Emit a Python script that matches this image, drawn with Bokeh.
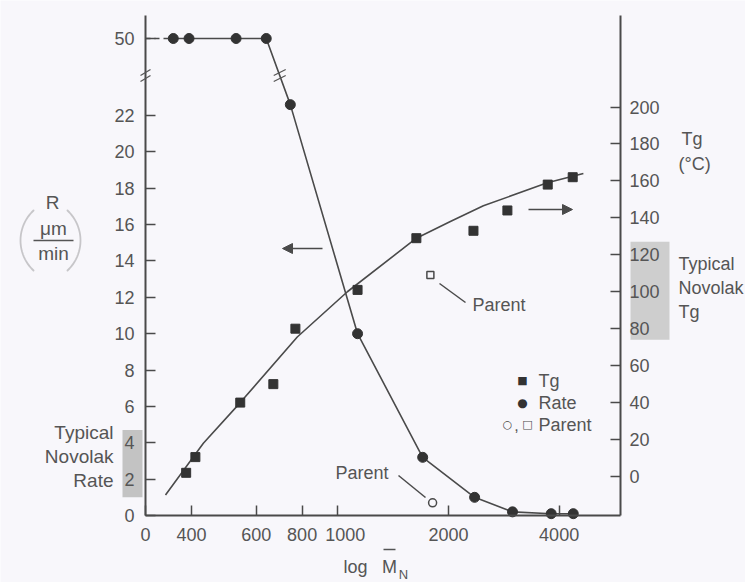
import math
import numpy as np
from bokeh.plotting import figure
from bokeh.models import (Range1d, LinearAxis, FixedTicker, BasicTickFormatter, Label, Arrow,
                          NormalHead, BoxAnnotation, PolyAnnotation)
from bokeh.embed import file_html
from bokeh.resources import INLINE

# ---------------- data ----------------
rate_mn = [357, 394, 529, 639, 743, 1132, 1702, 2356, 2987, 3806, 4370]
rate_r = [50, 50, 50, 50, 22.6, 10.0, 3.2, 1.0, 0.2, 0.1, 0.1]
tg_mn = [387, 410, 543, 668, 767, 1132, 1636, 2339, 2893, 3724, 4355]
tg_c = [2, 10.5, 40, 50, 80, 101, 129, 133, 144, 158, 162]
tg_fit_mn = [340, 431, 543, 776, 1062, 1636, 2024, 2489, 3715, 4656]
tg_fit_c = [-10, 18, 40, 75.5, 100, 129, 138, 146.5, 159, 164]
parent_rate_mn = [1811]
parent_rate_r = [0.7]
parent_tg_mn = [1786]
parent_tg_c = [109]
x_tick_values = [400, 600, 800, 1000, 2000, 4000]
x_tick_labels = ["400", "600", "800", "\u00a0\u00a0\u00a01000", "2000", "4000"]
r_tick_values = [0, 2, 4, 6, 8, 10, 12, 14, 16, 18, 20, 22]
r_top_value = 50
tg_tick_values = [0, 20, 40, 60, 80, 100, 120, 140, 160, 180, 200]
typical_rate = [1.0, 4.7]
typical_tg = [74, 127]

# ---------------- layout constants (pixels) ----------------
W, H = 745, 582
AX_L, AX_R, AX_T, AX_B = 145, 620, 15, 515     # axes box in page pixels
PX_PER_DEC = 367.7                              # log-x scale
PX_PER_R = 18.18                                # left axis
TG0_PY, PX_PER_TG = 476, 1.8475                 # right axis
X_AXIS_START = 300
X_AXIS_END = X_AXIS_START * 10 ** ((AX_R - AX_L) / PX_PER_DEC)
R_TOP_POS = (AX_B - 38) / PX_PER_R              # where the broken axis shows "50"
R_BREAK_POS = (AX_B - 75) / PX_PER_R
R_AXIS_TOP = (AX_B - AX_T) / PX_PER_R

INK = "#4a4a4a"
TXT = "#555555"
DOT = "#333333"
BG = "#f8f7fb"
FONT = "Liberation Sans"


def r_disp(v):
    return R_TOP_POS if v >= r_top_value else v


def S(ix, iy):
    """page pixel -> screen units of the (full canvas) frame, y from bottom"""
    return ix, H - iy


def data_to_screen(x, y):
    sx = AX_L + math.log10(x / X_AXIS_START) * PX_PER_DEC
    sy = H - (AX_B - y * PX_PER_R)
    return sx, sy


x_range = Range1d(X_AXIS_START * 10 ** (-AX_L / PX_PER_DEC),
                  X_AXIS_START * 10 ** ((W - AX_L) / PX_PER_DEC))
y_range = Range1d(-(H - AX_B) / PX_PER_R, AX_B / PX_PER_R)
tg_range = Range1d(-(H - TG0_PY) / PX_PER_TG, TG0_PY / PX_PER_TG)

p = figure(width=W, height=H, x_axis_type="log", x_range=x_range, y_range=y_range,
           output_backend="svg", toolbar_location=None, title=None,
           min_border_left=0, min_border_right=0, min_border_top=0, min_border_bottom=0)
p.extra_y_ranges = {"tg": tg_range}
p.background_fill_color = BG
p.border_fill_color = BG
p.outline_line_color = None
p.xgrid.visible = False
p.ygrid.visible = False


def style_axis(ax, standoff):
    ax.axis_line_color = INK
    ax.axis_line_width = 2
    ax.major_tick_line_color = INK
    ax.major_tick_line_width = 1.5
    ax.major_tick_in = 10
    ax.major_tick_out = 0
    ax.minor_tick_line_color = None
    ax.major_label_text_font = FONT
    ax.major_label_text_font_size = "18px"
    ax.major_label_text_color = TXT
    ax.major_label_standoff = standoff


# bottom (log) axis, drawn at R = 0
xa = p.xaxis[0]
xa.ticker = FixedTicker(ticks=[X_AXIS_START] + x_tick_values)
xa.formatter = BasicTickFormatter(use_scientific=False)
overrides = {X_AXIS_START: "0"}
for v, t in zip(x_tick_values, x_tick_labels):
    overrides[v] = t
xa.major_label_overrides = overrides
xa.fixed_location = 0
xa.bounds = (X_AXIS_START, X_AXIS_END)
style_axis(xa, 9)

# left axis (broken)
ya = p.yaxis[0]
ya.ticker = FixedTicker(ticks=r_tick_values + [R_TOP_POS])
ya.major_label_overrides = {R_TOP_POS: str(r_top_value)}
ya.fixed_location = X_AXIS_START
ya.bounds = (0, R_AXIS_TOP)
style_axis(ya, 11)

# right axis (Tg)
ra = LinearAxis(y_range_name="tg", ticker=FixedTicker(ticks=tg_tick_values))
ra.fixed_location = X_AXIS_END
ra.bounds = (-(AX_B - TG0_PY) / PX_PER_TG, (TG0_PY - AX_T) / PX_PER_TG)
style_axis(ra, 9)
p.add_layout(ra, "right")

# shaded "typical" boxes
p.add_layout(BoxAnnotation(left=122, right=142, left_units="screen", right_units="screen",
                           bottom=typical_rate[0], top=typical_rate[1],
                           fill_color="#bdbdbd", fill_alpha=0.9, line_color=None, level="underlay"))
p.add_layout(BoxAnnotation(left=630, right=669, left_units="screen", right_units="screen",
                           bottom=typical_tg[0], top=typical_tg[1], y_range_name="tg",
                           fill_color="#c9c9c9", fill_alpha=0.9, line_color=None, level="underlay"))

# ---------------- glyphs ----------------
rate_y = [r_disp(v) for v in rate_r]
p.line([X_AXIS_START, rate_mn[0]], [rate_y[0], rate_y[0]], line_color=INK, line_width=1.6,
       line_dash="5 4")
p.line(rate_mn, rate_y, line_color=INK, line_width=1.6)
p.scatter(rate_mn, rate_y, marker="circle", size=10, fill_color=DOT, line_color=DOT)

p.line(tg_fit_mn, tg_fit_c, y_range_name="tg", line_color=INK, line_width=1.6)
p.scatter(tg_mn, tg_c, y_range_name="tg", marker="square", size=9, fill_color=DOT, line_color=DOT)

p.scatter(parent_rate_mn, parent_rate_r, marker="circle", size=8, fill_color=BG,
          line_color=INK, line_width=1.5)
p.scatter(parent_tg_mn, parent_tg_c, y_range_name="tg", marker="square", size=7, fill_color=BG,
          line_color=INK, line_width=1.5)


# ---------------- annotations ----------------
def lab(text, ix, iy, align="left", size="18px", font=FONT, color=TXT):
    sx, sy = S(ix, iy)
    p.add_layout(Label(x=sx, y=sy, x_units="screen", y_units="screen", text=text,
                       text_align=align, text_baseline="middle", text_font=font,
                       text_font_size=size, text_color=color))


def seg_screen(sx0, sy0, sx1, sy1, width=1.5, head=False, color=INK):
    end = NormalHead(size=10, fill_color=INK, line_color=INK) if head else None
    p.add_layout(Arrow(x_start=sx0, y_start=sy0, x_end=sx1, y_end=sy1,
                       start_units="screen", end_units="screen", start=None, end=end,
                       line_color=color, line_width=width))


def seg(ix0, iy0, ix1, iy1, width=1.5, head=False, color=INK):
    sx0, sy0 = S(ix0, iy0)
    sx1, sy1 = S(ix1, iy1)
    seg_screen(sx0, sy0, sx1, sy1, width, head, color)


# left title R (um/min)
lab("R", 52, 202, align="center", size="19px")
lab("\u03bcm", 53, 228, align="center", size="19px")
seg(33, 240, 73, 240, width=1.5, color=TXT)
lab("min", 53, 253, align="center", size="19px")
for side in (-1, 1):
    r = 41.1
    th = np.linspace(-0.818, 0.818, 25)
    if side < 0:
        xs = 61.1 - r * np.cos(th)
    else:
        xs = 38.9 + r * np.cos(th)
    ys = 240 + r * np.sin(th)
    pts = [S(a, b) for a, b in zip(xs, ys)]
    px = [q[0] for q in pts]
    py = [q[1] for q in pts]
    p.add_layout(PolyAnnotation(xs=px + px[::-1], ys=py + py[::-1], xs_units="screen",
                                ys_units="screen", fill_alpha=0, line_color=TXT,
                                line_width=1.8, line_join="round"))

lab("Typical", 113, 432, align="right", size="19px")
lab("Novolak", 113, 456, align="right", size="19px")
lab("Rate", 113, 480, align="right", size="19px")

lab("Tg", 681, 138)
lab("(\u00b0C)", 678, 163)
lab("Typical", 678, 263)
lab("Novolak", 678, 287)
lab("Tg", 678, 311)

# parent labels with leader lines
lab("Parent", 472, 304)
seg(439, 283, 465, 302)
lab("Parent", 335, 472)
seg(398, 475, 425, 497)

# direction arrows
seg(322, 248, 282, 248, head=True)
seg(528, 209, 572, 209, head=True)

# legend
lab("\u25a0", 522, 380, align="center", size="11px", font="DejaVu Sans", color=DOT)
lab("Tg", 538, 380)
lab("\u25cf", 522, 402, align="center", size="12px", font="DejaVu Sans", color=DOT)
lab("Rate", 538, 402)
lab("\u25cb", 507, 424, align="center", size="11px", font="DejaVu Sans", color=INK)
lab(",", 516, 424, align="center", size="16px")
lab("\u25a1", 527, 424, align="center", size="11px", font="DejaVu Sans", color=INK)
lab("Parent", 538, 424)

# x-axis title: log M-bar N
lab("log", 355, 566, align="center")
lab("M", 389, 566, align="center")
seg(383, 549, 395, 549, width=1.5, color=TXT)
lab("N", 403, 574, align="center", size="13px")

# break marks (left axis and on the rate line)
bsx, bsy = data_to_screen(X_AXIS_START, R_BREAK_POS)
for off in (-3, 3):
    seg_screen(bsx - 5, bsy + off - 3, bsx + 5, bsy + off + 3, width=1.2, color=TXT)
i4, i5 = 3, 4
f = (rate_y[i4] - R_BREAK_POS) / (rate_y[i4] - rate_y[i5])
lx = 10 ** (math.log10(rate_mn[i4]) + f * (math.log10(rate_mn[i5]) - math.log10(rate_mn[i4])))
lsx, lsy = data_to_screen(lx, R_BREAK_POS)
for off in (-3, 3):
    seg_screen(lsx - 6, lsy + off - 3, lsx + 6, lsy + off + 3, width=1.2, color=TXT)

open("out.html", "w").write(file_html(p, INLINE))
